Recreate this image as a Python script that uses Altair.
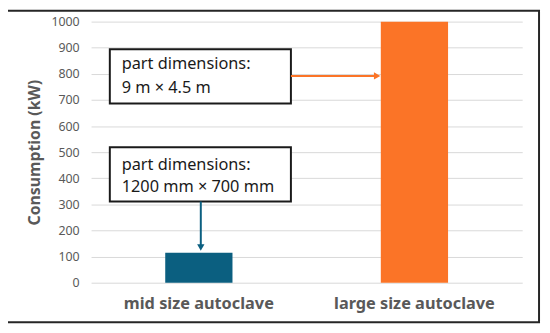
import altair as alt
import pandas as pd

# ---- data ----
categories = ["mid size autoclave", "large size autoclave"]
consumption = [115, 1000]
bar_colors = ["#0B5F80", "#FB7427"]
y_ticks = list(range(0, 1001, 100))

# annotation boxes (overlay x in 0..2 units, one unit per category band)
box_x = [0.087, 0.087]
box_x2 = [0.927, 0.927]
box_y = [894, 519]
box_y2 = [686, 311]
text_x = [0.142, 0.142]
line1 = ["part dimensions:", "part dimensions:"]
line2 = ["9 m \u00d7 4.5 m", "1200 mm \u00d7 700 mm"]
line1_y = [837, 451]
line2_y = [746, 367]

# arrows
arrow_x = [0.927, 0.509]
arrow_x2 = [1.330, 0.509]
arrow_y = [792, 311]
arrow_y2 = [792, 136]
arrow_color = ["#FB7427", "#0B5F80"]
head_x = [1.327, 0.509]
head_y = [792, 135]
head_shape = ["triangle-right", "triangle-down"]

FONT = "Noto Sans"
GREY = "#595959"

bars_df = pd.DataFrame({"cat": categories, "val": consumption})
box_df = pd.DataFrame({"x": box_x, "x2": box_x2, "y": box_y, "y2": box_y2})
txt_df = pd.DataFrame({
    "x": text_x + text_x,
    "y": line1_y + line2_y,
    "t": line1 + line2,
})
arr_df = pd.DataFrame({"x": arrow_x, "x2": arrow_x2, "y": arrow_y, "y2": arrow_y2, "c": arrow_color})
head_df = pd.DataFrame({"x": head_x, "y": head_y, "s": head_shape, "c": arrow_color})

xo = alt.Scale(domain=[0, 2])


def ys():
    return alt.Scale(domain=[0, 1000])


bars = alt.Chart(bars_df).mark_bar(size=68).encode(
    x=alt.X("cat:N", sort=categories,
            scale=alt.Scale(paddingInner=0, paddingOuter=0),
            axis=alt.Axis(title=None, labelAngle=0, domain=False, ticks=False,
                          labelFontSize=16.5, labelFontWeight="bold", labelColor=GREY,
                          labelFont=FONT, labelPadding=13)),
    y=alt.Y("val:Q", scale=ys(),
            axis=alt.Axis(title="Consumption (kW)", values=y_ticks, format="d",
                          domain=False, ticks=False,
                          labelFontSize=12.5, labelColor=GREY, labelFont=FONT, labelPadding=12,
                          gridColor="#D9D9D9", gridWidth=1,
                          titleFontSize=16, titleFontWeight="bold", titleColor=GREY,
                          titleFont=FONT, titlePadding=9)),
    color=alt.Color("cat:N", scale=alt.Scale(domain=categories, range=bar_colors), legend=None),
)

boxes = alt.Chart(box_df).mark_rect(fill="white", stroke="#1a1a1a", strokeWidth=2).encode(
    x=alt.X("x:Q", scale=xo, axis=None), x2="x2:Q",
    y=alt.Y("y:Q", scale=ys(), axis=None), y2="y2:Q",
)

texts = alt.Chart(txt_df).mark_text(align="left", baseline="middle", fontSize=16.5,
                                    font=FONT, color="#1a1a1a").encode(
    x=alt.X("x:Q", scale=xo, axis=None),
    y=alt.Y("y:Q", scale=ys(), axis=None),
    text="t:N",
)

shafts = alt.Chart(arr_df).mark_rule(strokeWidth=2).encode(
    x=alt.X("x:Q", scale=xo, axis=None), x2="x2:Q",
    y=alt.Y("y:Q", scale=ys(), axis=None), y2="y2:Q",
    color=alt.Color("c:N", scale=None),
)

heads = alt.Chart(head_df).mark_point(filled=True, size=55, opacity=1).encode(
    x=alt.X("x:Q", scale=xo, axis=None),
    y=alt.Y("y:Q", scale=ys(), axis=None),
    shape=alt.Shape("s:N", scale=None),
    color=alt.Color("c:N", scale=None),
)

frame = alt.Chart(pd.DataFrame({"k": [0]})).mark_rect(
    filled=False, stroke="#262626", strokeWidth=2
).encode(
    x=alt.value(-85), x2=alt.value(453), y=alt.value(-11), y2=alt.value(304)
)

chart = alt.layer(bars, boxes, shafts, heads, texts, frame).resolve_scale(
    x="independent", y="independent"
).properties(
    width=436, height=264,
    autosize=alt.AutoSizeParams(type="none"),
    padding={"left": 84, "top": 12, "right": 20, "bottom": 41},
    background="white",
).configure_view(stroke=None)

chart.save("out.html", embed_options={"renderer": "svg", "actions": False})
